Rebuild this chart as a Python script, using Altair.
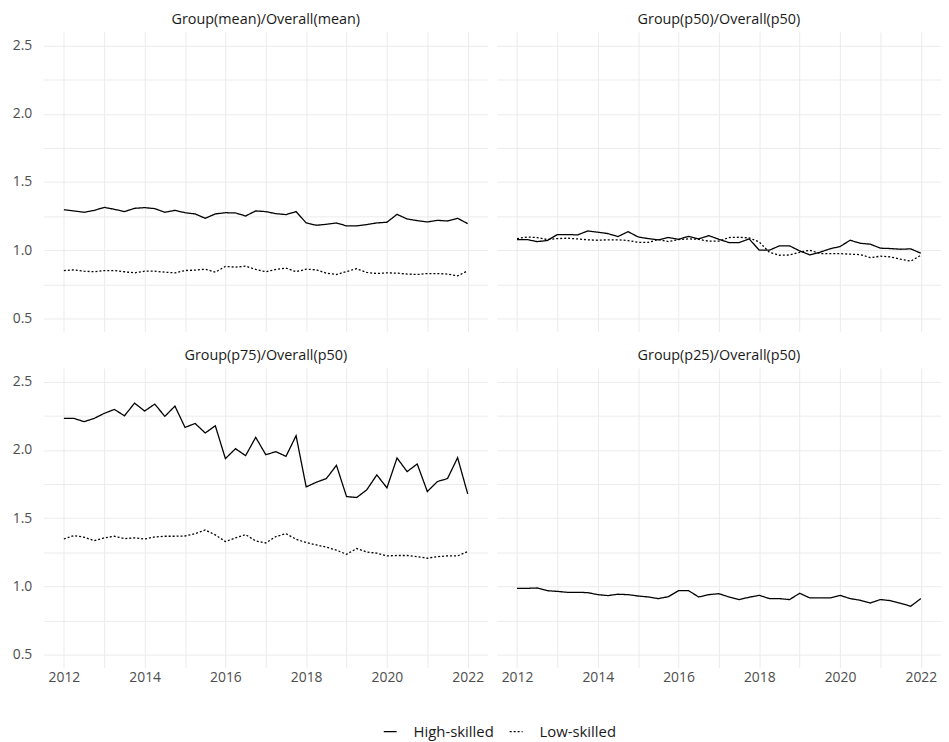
import altair as alt
import pandas as pd

# Quarterly time axis 2012Q1 .. 2022Q1
quarters = [2012 + 0.25 * i for i in range(41)]

panels = [
    "Group(mean)/Overall(mean)",
    "Group(p50)/Overall(p50)",
    "Group(p75)/Overall(p50)",
    "Group(p25)/Overall(p50)",
]
series_names = ["High-skilled", "Low-skilled"]

mean_high = [1.297, 1.288, 1.278, 1.292, 1.314, 1.300, 1.283, 1.307, 1.312, 1.305,
             1.278, 1.292, 1.275, 1.266, 1.234, 1.266, 1.275, 1.273, 1.251, 1.288,
             1.283, 1.268, 1.261, 1.283, 1.200, 1.183, 1.190, 1.200, 1.178, 1.178,
             1.188, 1.200, 1.205, 1.263, 1.229, 1.217, 1.207, 1.219, 1.214, 1.234,
             1.195]
mean_low = [0.851, 0.856, 0.846, 0.842, 0.851, 0.851, 0.842, 0.834, 0.846, 0.846,
            0.839, 0.834, 0.851, 0.854, 0.861, 0.839, 0.881, 0.876, 0.883, 0.859,
            0.842, 0.859, 0.869, 0.842, 0.861, 0.856, 0.832, 0.822, 0.844, 0.864,
            0.837, 0.829, 0.834, 0.832, 0.825, 0.822, 0.829, 0.829, 0.825, 0.812,
            0.849]

p50_high = [1.078, 1.078, 1.063, 1.071, 1.115, 1.115, 1.112, 1.141, 1.132, 1.122,
            1.100, 1.136, 1.097, 1.085, 1.076, 1.093, 1.080, 1.102, 1.083, 1.107,
            1.080, 1.056, 1.056, 1.083, 1.000, 1.000, 1.032, 1.032, 0.995, 0.966,
            0.985, 1.010, 1.027, 1.073, 1.051, 1.044, 1.015, 1.012, 1.007, 1.010,
            0.978]
p50_low = [1.085, 1.097, 1.093, 1.078, 1.085, 1.088, 1.083, 1.076, 1.073, 1.076,
           1.076, 1.071, 1.058, 1.058, 1.078, 1.063, 1.078, 1.083, 1.080, 1.066,
           1.066, 1.093, 1.095, 1.090, 1.060, 0.985, 0.963, 0.965, 0.985, 1.000,
           0.976, 0.975, 0.975, 0.971, 0.968, 0.946, 0.956, 0.951, 0.934, 0.920,
           0.963]

p75_high = [2.231, 2.231, 2.207, 2.231, 2.268, 2.297, 2.250, 2.343, 2.285, 2.336,
            2.246, 2.321, 2.165, 2.194, 2.124, 2.177, 1.936, 2.009, 1.958, 2.092,
            1.965, 1.987, 1.953, 2.104, 1.729, 1.763, 1.790, 1.887, 1.658, 1.651,
            1.707, 1.817, 1.722, 1.941, 1.841, 1.897, 1.695, 1.768, 1.790, 1.943,
            1.678]
p75_low = [1.347, 1.372, 1.360, 1.335, 1.355, 1.367, 1.350, 1.355, 1.347, 1.362,
           1.367, 1.367, 1.369, 1.386, 1.413, 1.377, 1.328, 1.355, 1.379, 1.333,
           1.318, 1.365, 1.386, 1.345, 1.321, 1.304, 1.287, 1.265, 1.235, 1.277,
           1.252, 1.243, 1.223, 1.226, 1.226, 1.218, 1.206, 1.218, 1.223, 1.223,
           1.255]

p25_high = [0.985, 0.985, 0.988, 0.968, 0.963, 0.956, 0.956, 0.954, 0.939, 0.932,
            0.942, 0.939, 0.929, 0.922, 0.910, 0.924, 0.968, 0.968, 0.922, 0.939,
            0.946, 0.922, 0.903, 0.920, 0.934, 0.910, 0.910, 0.903, 0.949, 0.915,
            0.915, 0.915, 0.934, 0.910, 0.898, 0.878, 0.903, 0.895, 0.876, 0.854,
            0.910]

x_tick_years = [2012, 2013, 2014, 2015, 2016, 2017, 2018, 2019, 2020, 2021, 2022]
y_grid_values = [0.5, 0.75, 1.0, 1.25, 1.5, 1.75, 2.0, 2.25, 2.5]

rows = []
for panel, series, vals in [
    (panels[0], series_names[0], mean_high),
    (panels[0], series_names[1], mean_low),
    (panels[1], series_names[0], p50_high),
    (panels[1], series_names[1], p50_low),
    (panels[2], series_names[0], p75_high),
    (panels[2], series_names[1], p75_low),
    (panels[3], series_names[0], p25_high),
]:
    for t, v in zip(quarters, vals):
        rows.append({"panel": panel, "series": series, "t": t, "v": v})
df = pd.DataFrame(rows)

FONT = "Open Sans"

lines = alt.Chart(df).mark_line(color="black", strokeWidth=1.3).encode(
    x=alt.X("t:Q",
            scale=alt.Scale(domain=[2011.5, 2022.5], nice=False, zero=False),
            axis=alt.Axis(values=x_tick_years, format="d",
                          labelExpr="datum.value % 2 == 0 ? datum.label : ''",
                          title=None)),
    y=alt.Y("v:Q",
            scale=alt.Scale(domain=[0.405, 2.6], nice=False, zero=False),
            axis=alt.Axis(values=y_grid_values, format=".1f",
                          labelExpr="(datum.value * 4) % 2 == 0 ? datum.label : ''",
                          title=None)),
    strokeDash=alt.StrokeDash(
        "series:N",
        scale=alt.Scale(domain=series_names, range=[[1, 0], [2, 2]]),
        legend=alt.Legend(title=None, orient="none", direction="horizontal",
                          legendX=342, legendY=698,
                          symbolType="stroke", symbolStrokeColor="black",
                          symbolStrokeWidth=1.3, symbolSize=169,
                          labelFont=FONT, labelFontSize=15, labelColor="#1a1a1a",
                          labelOffset=16, columnPadding=12),
    ),
).properties(width=448, height=302)

chart = lines.facet(
    facet=alt.Facet("panel:N", sort=panels,
                    header=alt.Header(title=None, labelFont=FONT, labelFontSize=14.5,
                                      labelColor="#1a1a1a", labelPadding=5)),
    columns=2,
    spacing={"row": 16, "column": 9},
).properties(
    padding={"left": 4, "top": 0, "right": 0, "bottom": 0}
).configure_view(
    stroke=None
).configure_axis(
    grid=True, gridColor="#ebebeb", gridWidth=1,
    domain=False, ticks=False,
    labelFont=FONT, labelFontSize=14, labelColor="#4d4d4d",
).configure_axisX(
    labelPadding=3
).configure_axisY(
    labelPadding=12
)

chart.save("out.html", embed_options={"renderer": "svg", "actions": False})
